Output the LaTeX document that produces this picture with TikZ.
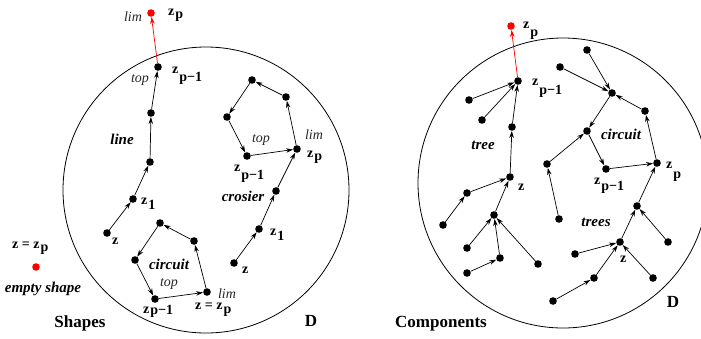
\documentclass[tikz,border=0pt]{standalone}
\usepackage{fontspec}
\setmainfont{Liberation Serif}
\usetikzlibrary{arrows.meta}
\newcommand{\zl}[2]{\textbf{z}\kern1pt\raisebox{-#1pt}{\textbf{#2}}}
\begin{document}
\begin{tikzpicture}[x=1pt,y=-1pt,
 dot/.style={circle,fill=black,inner sep=0pt,minimum size=7.6pt},
 rdot/.style={dot,fill=red},
 arr/.style={-{Stealth[length=7pt,width=4.5pt]},line width=0.7pt},
 rarr/.style={arr,draw=red},
 lab/.style={inner sep=0pt,anchor=base west,font=\fontsize{14}{16}\selectfont},
 it/.style={inner sep=0pt,anchor=base,text=black!85,font=\fontsize{14}{16}\selectfont\itshape},
 bi/.style={inner sep=0pt,anchor=base,font=\fontsize{15}{17}\selectfont\bfseries\itshape},
 ttl/.style={inner sep=0pt,anchor=base,font=\fontsize{17}{19}\selectfont\bfseries},
 region/.style={line width=0.8pt}]
\useasboundingbox (0,0) rectangle (701,338);

% domains
\draw[region] (206,190) circle[radius=143pt];
\draw[region] (563,183) circle[radius=145pt];

% ---------- left panel: line ----------
\node[rdot] (LR) at (151,13) {};
\node[dot] (A0) at (158,67) {};
\node[dot] (A1) at (151,113) {};
\node[dot] (A2) at (150,162) {};
\node[dot] (A3) at (133,199) {};
\node[dot] (A4) at (107,233) {};
\draw[rarr] (A0) -- (LR);
\draw[arr] (A1) -- (A0);
\draw[arr] (A2) -- (A1);
\draw[arr] (A3) -- (A2);
\draw[arr] (A4) -- (A3);
\node[it] (tlim1) at (133,21) {lim};
\node[lab] (tzp1) at (168,15) {\zl{3}{p}};
\node[it] (ttop1) at (140,82) {top};
\node[lab] (tzq1) at (172,73) {\zl{8}{p−1}};
\node[bi] (tline) at (122,144) {line};
\node[lab] (tz11) at (141,204) {\zl{5}{1}};
\node[lab] (tz1) at (112,244) {\textbf{z}};

% ---------- left panel: crosier ----------
\node[dot] (P1) at (252,80) {};
\node[dot] (P2) at (286,97) {};
\node[dot] (P3) at (297,149) {};
\node[dot] (P4) at (247,156) {};
\node[dot] (P5) at (227,117) {};
\node[dot] (Q1) at (276,191) {};
\node[dot] (Q2) at (259,229) {};
\node[dot] (Q3) at (234,263) {};
\draw[arr] (P3) -- (P2);
\draw[arr] (P2) -- (P1);
\draw[arr] (P1) -- (P5);
\draw[arr] (P5) -- (P4);
\draw[arr] (P4) -- (P3);
\draw[arr] (Q1) -- (P3);
\draw[arr] (Q2) -- (Q1);
\draw[arr] (Q3) -- (Q2);
\node[it] (tlim2) at (314,139) {lim};
\node[lab] (tzp2) at (307,157) {\zl{3}{p}};
\node[it] (ttop2) at (261,142) {top};
\node[lab] (tzq2) at (234,171) {\zl{8}{p−1}};
\node[bi] (tcros) at (243,201) {crosier};
\node[lab] (tz12) at (270,235) {\zl{5}{1}};
\node[lab] (tz2) at (242,273) {\textbf{z}};

% ---------- left panel: circuit ----------
\node[dot] (C1) at (160,223) {};
\node[dot] (C2) at (194,241) {};
\node[dot] (C3) at (207,292) {};
\node[dot] (C4) at (155,299) {};
\node[dot] (C5) at (135,260) {};
\draw[arr] (C3) -- (C2);
\draw[arr] (C2) -- (C1);
\draw[arr] (C1) -- (C5);
\draw[arr] (C5) -- (C4);
\draw[arr] (C4) -- (C3);
\node[bi] (tcirc1) at (169,269) {circuit};
\node[it] (ttop3) at (169,286) {top};
\node[it] (tlim3) at (227,298) {lim};
\node[lab] (tzzp) at (195,309) {\textbf{z = z}\kern1pt\raisebox{-4pt}{\textbf{p}}};
\node[lab] (tzq3) at (143,313) {\zl{1.5}{p−1}};

% ---------- left outside ----------
\node[lab] (tempz) at (12,248) {\textbf{z = z}\kern1pt\raisebox{-3pt}{\textbf{p}}};
\node[rdot] (E) at (36,267) {};
\node[bi] (tempty) at (43,292) {empty shape};
\node[ttl] (tshapes) at (80,327) {Shapes};
\node[ttl] (tD1) at (311,326) {D};

% ---------- right panel: tree ----------
\node[rdot] (RR) at (511,26) {};
\node[dot] (T0) at (518,81) {};
\node[dot] (Ta) at (469,100) {};
\node[dot] (Tb) at (482,120) {};
\node[dot] (T1) at (512,127) {};
\node[dot] (T2) at (510,177) {};
\node[dot] (T3) at (467,193) {};
\node[dot] (T4) at (494,215) {};
\node[dot] (Tc) at (443,225) {};
\node[dot] (Td) at (467,248) {};
\node[dot] (T5) at (500,258) {};
\node[dot] (Te) at (538,264) {};
\node[dot] (Tf) at (467,273) {};
\draw[rarr] (T0) -- (RR);
\draw[arr] (Ta) -- (T0);
\draw[arr] (Tb) -- (T0);
\draw[arr] (T1) -- (T0);
\draw[arr] (T2) -- (T1);
\draw[arr] (T3) -- (T2);
\draw[arr] (T4) -- (T2);
\draw[arr] (Tc) -- (T3);
\draw[arr] (Td) -- (T4);
\draw[arr] (T5) -- (T4);
\draw[arr] (Te) -- (T4);
\draw[arr] (Tf) -- (T5);
\node[lab] (tzp4) at (523,28) {\zl{8}{p}};
\node[lab] (tzq4) at (532,85) {\zl{9}{p−1}};
\node[bi] (ttree) at (483,149) {tree};
\node[lab] (tz4) at (518,190) {\textbf{z}};

% ---------- right panel: circuit with trees ----------
\node[dot] (K1) at (612,93) {};
\node[dot] (Ka) at (560,67) {};
\node[dot] (Kb) at (587,50) {};
\node[dot] (K2) at (645,111) {};
\node[dot] (K3) at (587,131) {};
\node[dot] (K4) at (606,169) {};
\node[dot] (K5) at (657,163) {};
\node[dot] (Kc) at (547,164) {};
\node[dot] (Kd) at (559,219) {};
\node[dot] (K6) at (637,206) {};
\node[dot] (K7) at (620,242) {};
\node[dot] (Ke) at (668,242) {};
\node[dot] (Kf) at (575,254) {};
\node[dot] (K8) at (594,278) {};
\node[dot] (Kg) at (653,278) {};
\node[dot] (Kh) at (553,301) {};
\draw[arr] (Ka) -- (K1);
\draw[arr] (Kb) -- (K1);
\draw[arr] (K2) -- (K1);
\draw[arr] (K1) -- (K3);
\draw[arr] (K3) -- (K4);
\draw[arr] (K4) -- (K5);
\draw[arr] (K5) -- (K2);
\draw[arr] (Kc) -- (K3);
\draw[arr] (Kd) -- (Kc);
\draw[arr] (K6) -- (K5);
\draw[arr] (K7) -- (K6);
\draw[arr] (Ke) -- (K6);
\draw[arr] (Kf) -- (K7);
\draw[arr] (K8) -- (K7);
\draw[arr] (Kg) -- (K7);
\draw[arr] (Kh) -- (K8);
\node[bi] (tcirc2) at (621,139) {circuit};
\node[lab] (tzq5) at (594,184) {\zl{6}{p−1}};
\node[lab] (tzp5) at (666,168) {\zl{10}{p}};
\node[bi] (ttrees) at (596,226) {trees};
\node[lab] (tz5) at (620,262) {\textbf{z}};
\node[ttl] (tD2) at (673,307) {D};
\node[ttl] (tcomp) at (441,327) {Components};
\end{tikzpicture}
\end{document}
